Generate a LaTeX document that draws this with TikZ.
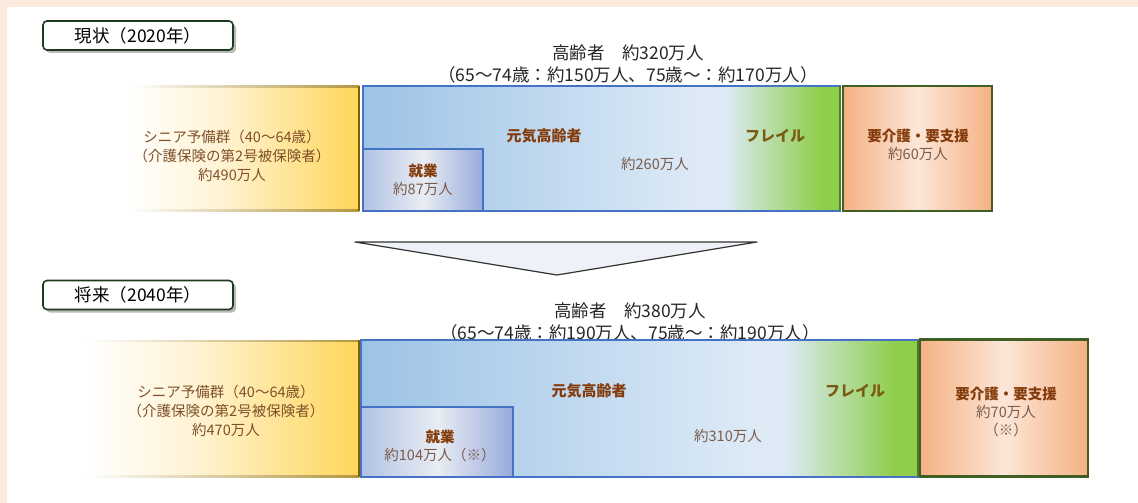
\documentclass[tikz,border=0pt]{standalone}
\usepackage{fontspec}
\setmainfont{Noto Sans CJK JP}
\usetikzlibrary{positioning,shadows}

\definecolor{framepeach}{RGB}{252,234,220}
\definecolor{periodedge}{RGB}{30,58,30}
\definecolor{seniorgold}{RGB}{255,214,90}
\definecolor{seniorpale}{RGB}{255,243,212}
\definecolor{senioredge}{RGB}{128,96,0}
\definecolor{seniortext}{RGB}{128,80,40}
\definecolor{genkiblue}{RGB}{157,195,230}
\definecolor{genkilight}{RGB}{221,234,246}
\definecolor{freilgreen}{RGB}{142,206,74}
\definecolor{genkiedge}{RGB}{68,114,196}
\definecolor{freiledge}{RGB}{78,122,46}
\definecolor{shugyoleft}{RGB}{176,194,227}
\definecolor{shugyomid}{RGB}{233,237,243}
\definecolor{shugyoright}{RGB}{151,170,219}
\definecolor{careorange}{RGB}{244,177,131}
\definecolor{carepale}{RGB}{252,230,216}
\definecolor{careedge}{RGB}{63,95,36}
\definecolor{labelbrown}{RGB}{132,60,12}
\definecolor{freilbrown}{RGB}{122,90,16}
\definecolor{countbrown}{RGB}{123,91,75}
\definecolor{arrowfill}{RGB}{238,241,247}

\pgfdeclarehorizontalshading{seniorfade}{100bp}{color(0bp)=(white); color(25bp)=(white); color(45bp)=(seniorpale); color(75bp)=(seniorgold); color(100bp)=(seniorgold)}
\pgfdeclarehorizontalshading{genkifade}{100bp}{color(0bp)=(genkiblue); color(25bp)=(genkiblue); color(60bp)=(genkilight); color(63bp)=(genkilight); color(73bp)=(freilgreen); color(100bp)=(freilgreen)}

\begin{document}
\begin{tikzpicture}[x=1pt,y=-1pt,
    every node/.style={inner sep=0pt, outer sep=0pt},
    periodbox/.style={draw=periodedge, line width=1.6pt, rounded corners=4pt, fill=white,
      minimum width=190, minimum height=29,
      drop shadow={shadow xshift=3pt, shadow yshift=-3pt, fill=black!45, opacity=.6},
      font=\fontsize{17.5}{20}\selectfont},
    seniorbox/.style={shade, shading=seniorfade},
    senioredgefade/.style={left color=white, right color=seniorgold!70!black},
    genkibox/.style={shade, shading=genkifade, draw=genkiedge, line width=2.2pt},
    shugyobox/.style={left color=shugyoleft, right color=shugyoright, middle color=shugyomid,
      draw=genkiedge, line width=2.8pt},
    carebox/.style={left color=careorange, right color=careorange, middle color=carepale,
      draw=careedge, line width=2.6pt},
    caption/.style={font=\fontsize{17.5}{22}\selectfont, text=black!85, align=center},
    seniorlbl/.style={font=\fontsize{14.5}{19}\selectfont, text=seniortext, align=center},
    boldlbl/.style={font=\fontsize{15}{18}\selectfont\bfseries, text=labelbrown},
    countlbl/.style={font=\fontsize{14.5}{18}\selectfont, text=countbrown, align=center}]

  % frame
  \useasboundingbox (0,0) rectangle (1138,503);
  \fill[framepeach] (0,0) rectangle (1138,503);
  \fill[white] (7,7) rectangle (1138,503);

  % ---- now (2020)
  \node[periodbox] (period1) at (138,35.5) {現状（2020年）};
  \node[caption] (cap1) at (628,64) {高齢者　約320万人\\（65～74歳：約150万人、75歳～：約170万人）};

  \node[seniorbox, minimum width=231, minimum height=125] (senior1) at (243.5,148.5) {};
  \shade[senioredgefade] (senior1.north west) rectangle ([yshift=-1.5pt]senior1.north east);
  \shade[senioredgefade] (senior1.south west) rectangle ([yshift=1.5pt]senior1.south east);
  \draw[senioredge, line width=1.8pt] (senior1.north east) -- (senior1.south east);
  \node[seniorlbl] (senior1txt) at (232,156) {シニア予備群（40～64歳）\\（介護保険の第2号被保険者）\\約490万人};

  \node[genkibox, minimum width=477, minimum height=125] (genki1) at (601.5,148.5) {};
  \draw[freiledge, line width=2.2pt] (genki1.north east) -- (genki1.south east);
  \node[shugyobox, minimum width=120, minimum height=62, anchor=south west] (shugyo1) at (genki1.south west) {};
  \node[boldlbl] (genki1lbl) at (544,136) {元気高齢者};
  \node[boldlbl, text=freilbrown] (freil1lbl) at (775,136) {フレイル};
  \node[countlbl] (genki1num) at (655,164) {約260万人};
  \node[countlbl] (shugyo1txt) at (shugyo1.center) {\textcolor{labelbrown}{\bfseries 就業}\\約87万人};

  \node[carebox, minimum width=149, minimum height=125] (care1) at (917.5,148.5) {};
  \node[countlbl] (care1txt) at (918,145) {\textcolor{labelbrown}{\bfseries 要介護・要支援}\\約60万人};

  % arrow between
  \draw[black!80, line width=1.2pt, fill=arrowfill, line join=round] (355,242) -- (757,242) -- (557,275) -- cycle;

  % ---- future (2040)
  \node[periodbox] (period2) at (138,295) {将来（2040年）};
  \node[caption] (cap2) at (630,322) {高齢者　約380万人\\（65～74歳：約190万人、75歳～：約190万人）};

  \node[seniorbox, minimum width=274, minimum height=137] (senior2) at (222,408.5) {};
  \shade[senioredgefade] (senior2.north west) rectangle ([yshift=-1.5pt]senior2.north east);
  \shade[senioredgefade] (senior2.south west) rectangle ([yshift=1.5pt]senior2.south east);
  \draw[senioredge, line width=1.8pt] (senior2.north east) -- (senior2.south east);
  \node[seniorlbl] (senior2txt) at (226,411) {シニア予備群（40～64歳）\\（介護保険の第2号被保険者）\\約470万人};

  \node[genkibox, minimum width=557, minimum height=137] (genki2) at (639.5,408.5) {};
  \draw[freiledge, line width=2.2pt] (genki2.north east) -- (genki2.south east);
  \node[shugyobox, minimum width=152, minimum height=70, anchor=south west] (shugyo2) at (genki2.south west) {};
  \node[boldlbl] (genki2lbl) at (589,391) {元気高齢者};
  \node[boldlbl, text=freilbrown] (freil2lbl) at (855,391) {フレイル};
  \node[countlbl] (genki2num) at (728,436) {約310万人};
  \node[countlbl] (shugyo2txt) at (440,446) {\textcolor{labelbrown}{\bfseries 就業}\\約104万人（※）};

  \node[carebox, minimum width=168, minimum height=137] (care2) at (1004,408) {};
  \node[countlbl] (care2txt) at (1006,412) {\textcolor{labelbrown}{\bfseries 要介護・要支援}\\約70万人\\（※）};
\end{tikzpicture}
\end{document}
